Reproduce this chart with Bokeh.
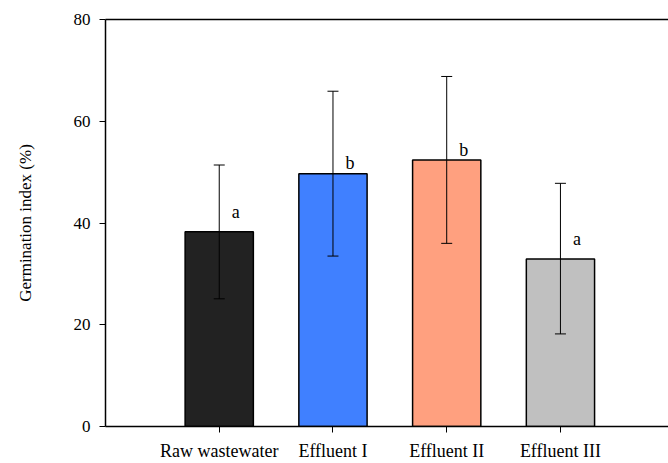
from bokeh.plotting import figure
from bokeh.models import ColumnDataSource, Range1d, FixedTicker, LinearAxis, Whisker, TeeHead
from bokeh.core.properties import value
from bokeh.embed import file_html
from bokeh.resources import INLINE

categories = ["Raw wastewater", "Effluent I", "Effluent II", "Effluent III"]
means = [38.3, 49.7, 52.4, 32.9]
lower = [25.1, 33.5, 36.0, 18.2]
upper = [51.4, 65.9, 68.8, 47.8]
letters = ["a", "b", "b", "a"]
colors = ["#222222", "#4080ff", "#ffa07f", "#c0c0c0"]

xs = [i + 1 for i in range(len(categories))]
letter_off = [3.9 if l == "a" else 2.0 for l in letters]
src = ColumnDataSource(dict(
    x=xs, top=means, lower=lower, upper=upper, color=colors,
    lx=[x + 0.11 for x in xs],
    ly=[m + o for m, o in zip(means, letter_off)],
    letter=letters,
))

FONT = "Liberation Serif"

p = figure(width=668, height=463, output_backend="svg", toolbar_location=None,
           x_range=Range1d(0, 4.95), y_range=Range1d(0, 80),
           min_border_left=105, min_border_right=0, min_border_top=19, min_border_bottom=36)
p.outline_line_color = None
p.xgrid.grid_line_color = None
p.ygrid.grid_line_color = None
p.background_fill_color = "white"
p.border_fill_color = "white"

p.vbar(x="x", top="top", width=0.6, bottom=0, fill_color="color",
       line_color="black", line_width=1.5, source=src)

w = Whisker(base="x", lower="lower", upper="upper", source=src, dimension="height",
            line_color="black", line_width=1, level="overlay",
            upper_head=TeeHead(size=11, line_color="black", line_width=1),
            lower_head=TeeHead(size=11, line_color="black", line_width=1))
p.add_layout(w)

p.text(x="lx", y="ly", text="letter", source=src, text_font=value(FONT),
       text_font_size="18px", text_align="left", text_baseline="alphabetic", text_color="black")

xa = p.xaxis[0]
xa.ticker = FixedTicker(ticks=xs)
xa.major_label_overrides = {x: c for x, c in zip(xs, categories)}
xa.minor_tick_line_color = None
xa.major_tick_in = 0
xa.major_tick_out = 6
xa.axis_line_width = 1.5
xa.major_tick_line_width = 1
xa.major_label_text_font = FONT
xa.major_label_text_font_size = "18px"
xa.major_label_text_color = "black"
xa.major_label_standoff = 8

ya = p.yaxis[0]
ya.ticker = FixedTicker(ticks=[0, 20, 40, 60, 80])
ya.minor_tick_line_color = None
ya.major_tick_in = 0
ya.major_tick_out = 6
ya.axis_line_width = 1.5
ya.major_tick_line_width = 1
ya.major_label_text_font = FONT
ya.major_label_text_font_size = "17px"
ya.major_label_text_color = "black"
ya.major_label_standoff = 9
ya.axis_label = "Germination index (%)"
ya.axis_label_text_font = FONT
ya.axis_label_text_font_size = "17px"
ya.axis_label_text_font_style = "normal"
ya.axis_label_text_color = "black"
ya.axis_label_standoff = 36

top_axis = LinearAxis(ticker=FixedTicker(ticks=[]), axis_line_width=1.5,
                      major_tick_line_color=None, minor_tick_line_color=None,
                      major_label_text_font_size="0px")
p.add_layout(top_axis, "above")

open("out.html", "w").write(file_html(p, INLINE))
